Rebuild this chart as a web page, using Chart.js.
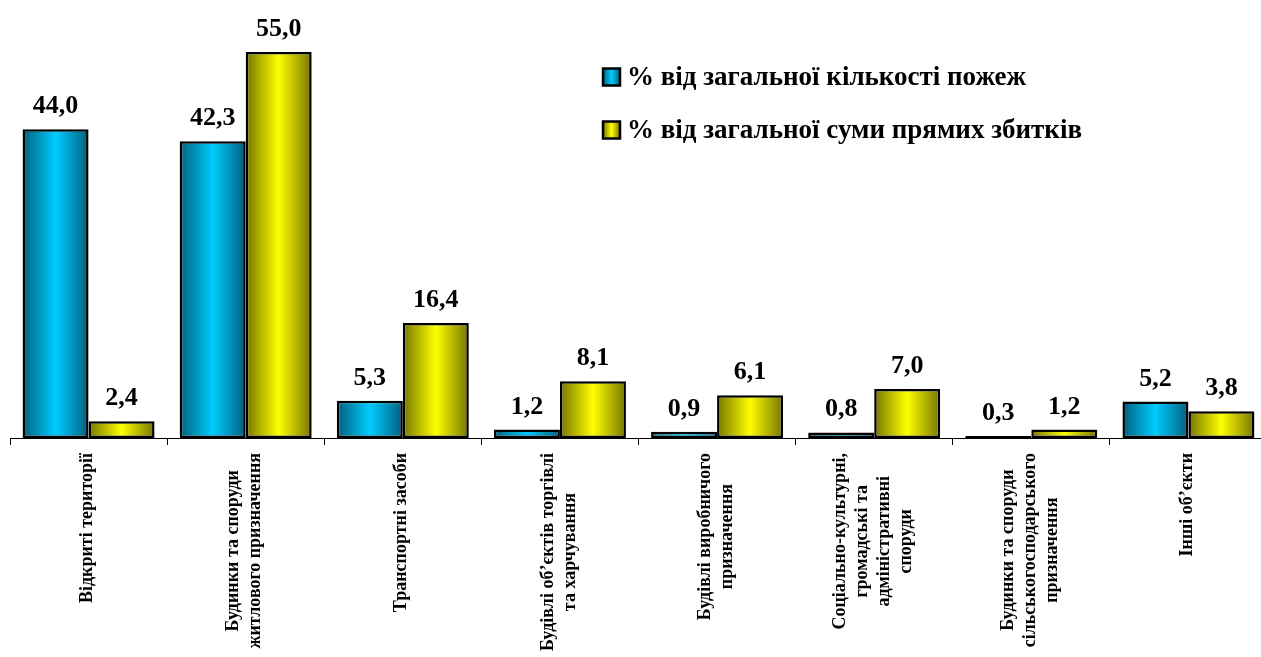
<!DOCTYPE html>
<html>
<head>
<meta charset="utf-8">
<script src="https://cdn.jsdelivr.net/npm/chart.js@4"></script>
<style>
  html, body { margin: 0; padding: 0; background: #fff; overflow: hidden; }
  #chart { display: block; }
</style>
</head>
<body>
<canvas id="chart" width="1270" height="657"></canvas>
<script>
const categories = [
  ['Відкриті території'],
  ['Будинки та споруди', 'житлового призначення'],
  ['Транспортні засоби'],
  ['Будівлі об\u2019єктів торгівлі', 'та харчування'],
  ['Будівлі виробничого', 'призначення'],
  ['Соціально-культурні,', 'громадські та', 'адміністративні', 'споруди'],
  ['Будинки та споруди', 'сільськогосподарського', 'призначення'],
  ['Інші об\u2019єкти']
];
const firesShare = [44.0, 42.3, 5.3, 1.2, 0.9, 0.8, 0.3, 5.2];
const lossShare = [2.4, 55.0, 16.4, 8.1, 6.1, 7.0, 1.2, 3.8];
const seriesNames = ['% від загальної кількості пожеж', '% від загальної суми прямих збитків'];

const SERIF = '"Liberation Serif", "Times New Roman", serif';
const palettes = [
  { edge: '#005f7d', mid: '#00ccff' },
  { edge: '#757500', mid: '#ffff00' }
];
const GROUP = 0.84;

const makeGradient = (ctx, left, right, pal) => {
  const g = ctx.createLinearGradient(left, 0, right, 0);
  g.addColorStop(0, pal.edge);
  g.addColorStop(0.5, pal.mid);
  g.addColorStop(1, pal.edge);
  return g;
};

// gradient follows each bar, worked out from the category scale
const barFill = (c) => {
  const pal = palettes[c.datasetIndex];
  const xs = c.chart.scales.x;
  if (!xs || c.dataIndex === undefined || !isFinite(xs.width) || !xs.width) return pal.mid;
  const cat = xs.width / categories.length;
  const bw = cat * GROUP / 2;
  const center = xs.getPixelForValue(c.dataIndex) + (c.datasetIndex === 0 ? -bw / 2 : bw / 2);
  if (!isFinite(center)) return pal.mid;
  return makeGradient(c.chart.ctx, center - bw / 2, center + bw / 2, pal);
};

const formatValue = (v) => v.toFixed(1).replace('.', ',');

const valueLabels = {
  id: 'valueLabels',
  afterDatasetsDraw(chart) {
    const { ctx } = chart;
    ctx.save();
    ctx.font = `bold 26px ${SERIF}`;
    ctx.fillStyle = '#000';
    ctx.textAlign = 'center';
    ctx.textBaseline = 'alphabetic';
    chart.data.datasets.forEach((ds, di) => {
      chart.getDatasetMeta(di).data.forEach((bar, i) => {
        ctx.fillText(formatValue(ds.data[i]), bar.x, bar.y - 16);
      });
    });
    ctx.restore();
  }
};

const categoryLabels = {
  id: 'categoryLabels',
  afterDraw(chart) {
    const { ctx } = chart;
    const xs = chart.scales.x;
    const lh = 22;
    ctx.save();
    ctx.font = `bold 18px ${SERIF}`;
    ctx.fillStyle = '#000';
    ctx.textAlign = 'center';
    ctx.textBaseline = 'middle';
    categories.forEach((lines, i) => {
      const maxW = Math.max(...lines.map((l) => ctx.measureText(l).width));
      ctx.save();
      ctx.translate(xs.getPixelForValue(i) - 1, 453);
      ctx.rotate(-Math.PI / 2);
      lines.forEach((line, k) => {
        ctx.fillText(line, -maxW / 2, (k - (lines.length - 1) / 2) * lh);
      });
      ctx.restore();
    });
    ctx.restore();
  }
};

const sideLegend = {
  id: 'sideLegend',
  afterDraw(chart) {
    const { ctx } = chart;
    const rows = [77, 130];
    ctx.save();
    ctx.font = `bold 27px ${SERIF}`;
    ctx.textBaseline = 'middle';
    ctx.textAlign = 'left';
    seriesNames.forEach((name, i) => {
      const y = rows[i];
      const sx = 603, size = 17;
      ctx.fillStyle = makeGradient(ctx, sx, sx + size, palettes[i]);
      ctx.fillRect(sx, y - size / 2, size, size);
      ctx.lineWidth = 2.5;
      ctx.strokeStyle = '#000';
      ctx.strokeRect(sx, y - size / 2, size, size);
      ctx.fillStyle = '#000';
      ctx.fillText(name, 627, y + 1);
    });
    ctx.restore();
  }
};

const barStyle = {
  backgroundColor: barFill,
  borderColor: '#000',
  borderWidth: 2.5,
  borderSkipped: false,
  categoryPercentage: GROUP,
  barPercentage: 1
};

new Chart(document.getElementById('chart'), {
  type: 'bar',
  data: {
    labels: categories.map((l) => l.join(' ')),
    datasets: [
      { label: seriesNames[0], data: firesShare, ...barStyle },
      { label: seriesNames[1], data: lossShare, ...barStyle }
    ]
  },
  options: {
    responsive: false,
    animation: false,
    layout: { padding: { left: 10, right: 3, top: 17, bottom: 212 } },
    scales: {
      x: {
        offset: true,
        ticks: { display: false },
        grid: { display: true, drawOnChartArea: false, drawTicks: true, tickLength: 7, color: '#000', offset: true },
        border: { display: true, color: '#000', width: 1 }
      },
      y: {
        display: false,
        min: 0,
        max: 60
      }
    },
    plugins: {
      legend: { display: false },
      tooltip: { enabled: false },
      colors: { enabled: false }
    }
  },
  plugins: [valueLabels, categoryLabels, sideLegend]
});
</script>
</body>
</html>
